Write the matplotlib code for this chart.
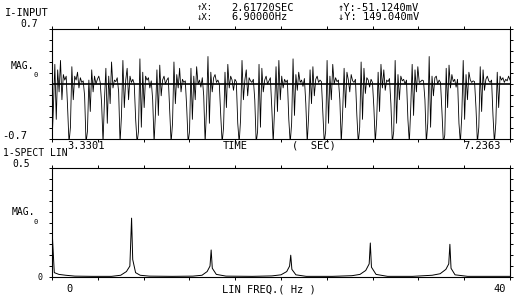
import numpy as np
import matplotlib.pyplot as plt

# time record (sec) and input signal, 12 samples per cycle
t_start, t_end = 3.3301, 7.2363
input_mv = [
    -0.75, -0.30, 0.25, -0.45, 0.18, -0.10, 0.30, -0.20, 0.12, 0.05, 0.10, -0.30,
    -0.75, -0.55, 0.22, -0.20, 0.10, 0.05, 0.15, -0.05, 0.08, 0.02, 0.04, -0.15,
    -0.75, -0.60, 0.05, -0.35, 0.18, -0.10, 0.10, 0.00, 0.06, 0.10, 0.02, -0.25,
    -0.75, -0.20, 0.20, -0.50, 0.10, -0.25, 0.28, -0.05, 0.05, 0.03, 0.08, -0.10,
    -0.75, -0.40, 0.30, -0.30, 0.05, 0.20, -0.20, 0.10, 0.02, 0.06, 0.00, -0.45,
    -0.75, -0.60, 0.32, -0.55, 0.15, -0.30, 0.10, 0.05, 0.08, -0.05, 0.04, -0.20,
    -0.75, -0.35, 0.18, -0.40, 0.24, -0.15, 0.05, 0.10, 0.00, 0.05, 0.08, -0.35,
    -0.75, -0.50, 0.28, -0.25, 0.12, -0.05, 0.20, -0.10, 0.06, 0.02, 0.04, -0.30,
    -0.75, -0.60, 0.20, -0.45, 0.10, -0.20, 0.22, 0.00, 0.05, -0.04, 0.08, -0.15,
    -0.75, -0.30, 0.35, -0.50, 0.15, -0.10, 0.08, 0.12, 0.02, 0.05, 0.00, -0.40,
    -0.75, -0.55, 0.15, -0.30, 0.25, -0.05, 0.10, 0.05, -0.08, 0.06, 0.03, -0.50,
    -0.75, -0.45, 0.30, -0.20, 0.05, 0.18, -0.15, 0.08, 0.04, 0.02, 0.06, -0.20,
    -0.75, -0.60, 0.25, -0.55, 0.20, -0.10, 0.05, 0.10, 0.00, 0.04, 0.08, -0.30,
    -0.75, -0.30, 0.22, -0.35, 0.30, -0.20, 0.10, -0.05, 0.06, 0.02, 0.05, -0.45,
    -0.75, -0.50, 0.32, -0.40, 0.12, -0.08, 0.15, 0.02, 0.05, -0.03, 0.07, -0.25,
    -0.75, -0.40, 0.18, -0.25, 0.22, -0.15, 0.06, 0.10, 0.02, 0.05, 0.03, -0.35,
    -0.75, -0.60, 0.30, -0.50, 0.10, -0.20, 0.25, 0.00, 0.08, 0.03, 0.05, -0.20,
    -0.75, -0.35, 0.20, -0.30, 0.15, 0.05, -0.10, 0.12, 0.04, 0.02, 0.06, -0.40,
    -0.75, -0.55, 0.28, -0.45, 0.20, -0.12, 0.08, 0.05, -0.04, 0.06, 0.02, -0.30,
    -0.75, -0.45, 0.15, -0.35, 0.25, -0.05, 0.18, -0.08, 0.05, 0.03, 0.07, -0.25,
    -0.75, -0.60, 0.30, -0.50, 0.12, -0.20, 0.10, 0.04, 0.06, 0.00, 0.05, -0.45,
    -0.75, -0.30, 0.25, -0.40, 0.18, -0.10, 0.22, 0.02, 0.03, 0.05, 0.04, -0.20,
    -0.75, -0.50, 0.35, -0.55, 0.10, -0.15, 0.08, 0.10, 0.00, 0.05, 0.02, -0.35,
    -0.75, -0.65, 0.20, -0.30, 0.24, -0.05, 0.12, 0.03, 0.06, -0.04, 0.06, -0.50,
    -0.75, -0.40, 0.30, -0.45, 0.12, -0.20, 0.15, 0.05, 0.02, 0.04, 0.03, -0.30,
    -0.75, -0.55, 0.22, -0.35, 0.18, -0.08, 0.06, 0.10, 0.04, 0.02, 0.05, -0.40,
    -0.75, -0.50, 0.15, -0.30, 0.10, 0.05, 0.08, 0.02, 0.06, 0.04, 0.10, 0.05,
]

# linear spectrum (Hz, magnitude)
spec_freq = [0, 0.2, 0.6, 1.2, 2.0, 3.5, 5.2, 6.0, 6.5, 6.8, 6.95, 7.05, 7.3, 7.7, 8.5,
             10.5, 12.3, 13.1, 13.55, 13.8, 13.9, 14.0, 14.35, 15.2,
             17.5, 19.2, 20.0, 20.5, 20.75, 20.85, 20.95, 21.3, 22.2,
             24.5, 26.2, 26.9, 27.4, 27.7, 27.8, 27.9, 28.3, 29.3,
             31.5, 33.2, 33.9, 34.4, 34.65, 34.75, 34.85, 35.2, 36.3, 38.5, 40]
spec_mag = [0.22, 0.02, 0.012, 0.008, 0.004, 0.003, 0.003, 0.008, 0.025, 0.05, 0.27, 0.08, 0.02, 0.008, 0.004,
            0.003, 0.004, 0.008, 0.025, 0.05, 0.124, 0.04, 0.012, 0.004,
            0.003, 0.005, 0.01, 0.025, 0.05, 0.10, 0.035, 0.01, 0.003,
            0.003, 0.006, 0.012, 0.03, 0.06, 0.156, 0.045, 0.012, 0.003,
            0.003, 0.008, 0.015, 0.035, 0.06, 0.15, 0.04, 0.01, 0.003, 0.003, 0.003]

W, H = 515, 296
fig = plt.figure(figsize=(W / 100, H / 100), dpi=100)
plt.rcParams['font.family'] = 'DejaVu Sans Mono'
FS = 7.5


def box(x0, y0, x1, y1):
    return [x0 / W, 1 - y1 / H, (x1 - x0) / W, (y1 - y0) / H]


def txt(x, y, s, size=FS, ha='left'):
    fig.text(x / W, 1 - y / H, s, fontsize=size, ha=ha, va='center', color='black')


def style(ax, xr, yr):
    ax.set_xlim(*xr)
    ax.set_ylim(*yr)
    ax.set_xticks(np.linspace(xr[0], xr[1], 11))
    ax.set_yticks(np.linspace(yr[0], yr[1], 11))
    ax.tick_params(direction='out', length=2.5, width=0.7, top=True, right=True,
                   labelbottom=False, labelleft=False)
    for s in ax.spines.values():
        s.set_linewidth(0.8)


ax1 = fig.add_axes(box(52, 29, 510, 139))
t = np.linspace(t_start, t_end, len(input_mv))
ax1.plot(t, input_mv, color='black', lw=0.6)
ax1.axhline(0, color='black', lw=1.2)
style(ax1, (t_start, t_end), (-0.7, 0.7))

ax2 = fig.add_axes(box(52, 168, 510, 277))
ax2.plot(spec_freq, spec_mag, color='black', lw=0.7)
style(ax2, (0, 40), (0, 0.5))

# header / cursor readout
txt(5, 13, 'I-INPUT')
txt(20, 24, '0.7', size=7)
txt(197, 8, '↑X:', size=6.5)
txt(197, 17, '↓X:', size=6.5)
txt(231, 8, '2.61720SEC')
txt(231, 17, '6.90000Hz')
txt(338, 8, '↑Y:-51.1240mV')
txt(338, 17, '↓Y: 149.040mV')

# upper panel labels
txt(11, 66, 'MAG.', size=7)
txt(33, 75, '0', size=5)
txt(2, 136, '-0.7')
txt(67, 146, '3.3301')
txt(223, 146, 'TIME')
txt(292, 146, '(  SEC)')
txt(463, 146, '7.2363')

# lower panel labels
txt(3, 153, '1-SPECT LIN', size=7)
txt(12, 164, '0.5', size=7)
txt(12, 212, 'MAG.', size=7)
txt(33, 222, '0', size=5)
txt(38, 277, '0', size=6)
txt(66, 289, '0')
txt(222, 289, 'LIN FREQ.( Hz )')
txt(493, 289, '40')

fig.savefig('out.png', dpi=100)
